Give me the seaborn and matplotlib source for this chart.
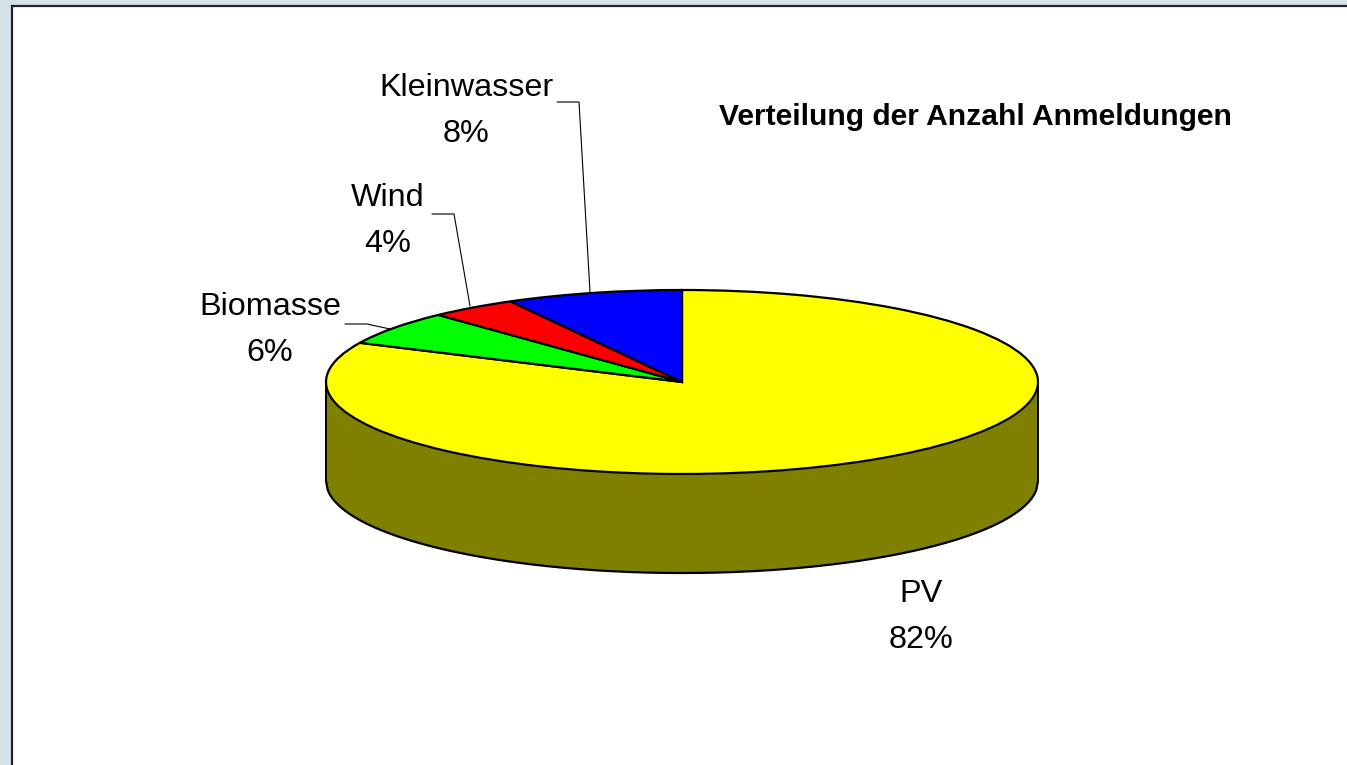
import numpy as np
import matplotlib
matplotlib.use("Agg")
import matplotlib.pyplot as plt
from matplotlib.transforms import Affine2D
import seaborn as sns

# --- data -------------------------------------------------------------
categories = ["PV", "Biomasse", "Wind", "Kleinwasser"]
shares = [82, 6, 4, 8]
slice_colors = ["#FFFF00", "#00FF00", "#FF0000", "#0000FF"]
side_color = "#808000"
title = "Verteilung der Anzahl Anmeldungen"

sns.set_theme(style="white")
plt.rcParams["font.family"] = ["Liberation Sans", "DejaVu Sans"]

W, H = 1347, 765
fig = plt.figure(figsize=(W / 100, H / 100), dpi=100, facecolor="#D5E2E8")
px = Affine2D().scale(1 / W, -1 / H).translate(0, 1) + fig.transFigure

# panel
L, T = 12, 6
ax = fig.add_axes([L / W, 0, (W - L) / W, (H - T) / H], facecolor="white")

# pie geometry in pixels
cx, cy, rx, ry, depth_px = 682, 382, 356, 92, 99
depth = depth_px / ry
edge = dict(edgecolor="black", linewidth=1.6)

# side wall
xs = np.linspace(-1, 1, 400)
lower = -np.sqrt(1 - xs ** 2)
ax.fill_between(xs, lower - depth, lower, color=side_color, lw=0, zorder=1.5)
ax.plot(xs, lower - depth, color="black", lw=1.6, zorder=1.6)
ax.plot([-1, -1], [0, -depth], color="black", lw=1.4, zorder=1.6)
ax.plot([1, 1], [0, -depth], color="black", lw=1.4, zorder=1.6)

# top surface
ax.pie(shares, colors=slice_colors, startangle=90, counterclock=False,
       radius=1, center=(0, 0), wedgeprops={**edge, "zorder": 2})

ax.set_aspect("auto")
ax.set_xlim((L - cx) / rx, (W - cx) / rx)
ax.set_ylim((cy - H) / ry, (cy - T) / ry)
ax.set_xticks([])
ax.set_yticks([])
ax.set_frame_on(True)
for side in ["right", "bottom"]:
    ax.spines[side].set_visible(False)
for side in ["left", "top"]:
    ax.spines[side].set_visible(True)
    ax.spines[side].set_color("#222222")
    ax.spines[side].set_linewidth(1.6)

# labels
fs = 23.3
label_pos = {"PV": (921, 591), "Biomasse": (270, 304),
             "Wind": (388, 195), "Kleinwasser": (466, 85)}
for name, val in zip(categories, shares):
    x, y = label_pos[name]
    fig.text(x, y + 3, name, transform=px, ha="center", va="center", fontsize=fs, color="black")
    fig.text(x, y + 49, f"{val}%", transform=px,
             ha="center", va="center", fontsize=fs, color="black")

fig.text(975.5, 117, title, transform=px, ha="center", va="center",
         fontsize=21.6, fontweight="bold", color="black")

# leader lines
leaders = [([557, 579, 590], [102, 102, 292]),
           ([432, 454, 470], [214, 214, 306]),
           ([345, 367, 390], [324, 324, 329])]
for lx, ly in leaders:
    fig.add_artist(plt.Line2D(lx, ly, transform=px, color="black", lw=0.8))

fig.savefig("out.png", dpi=100, facecolor=fig.get_facecolor())
